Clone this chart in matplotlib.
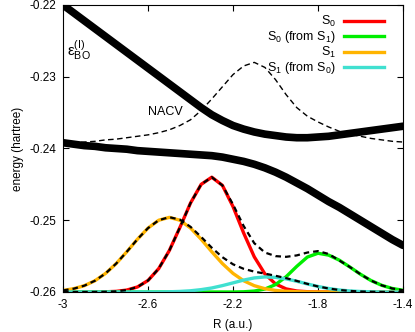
import numpy as np
import matplotlib
matplotlib.use("Agg")
from matplotlib import pyplot as plt

plt.rcParams['font.family'] = ['Liberation Sans', 'DejaVu Sans']
plt.rcParams['mathtext.fontset'] = 'custom'
plt.rcParams['mathtext.rm'] = 'Liberation Sans'
plt.rcParams['mathtext.it'] = 'Liberation Sans:italic'

# nuclear coordinate grid (a.u.)
R = [-3.00, -2.95, -2.90, -2.85, -2.80, -2.75, -2.70, -2.65, -2.60, -2.55, -2.50,
     -2.45, -2.40, -2.35, -2.30, -2.25, -2.20, -2.15, -2.10, -2.05, -2.00, -1.95,
     -1.90, -1.85, -1.80, -1.75, -1.70, -1.65, -1.60, -1.55, -1.50, -1.45, -1.40]

# BO surfaces (hartree)
bo_upper = [-0.2200, -0.2211, -0.2222, -0.2233, -0.2244, -0.2255, -0.2266, -0.2277,
            -0.2288, -0.2299, -0.2310, -0.2321, -0.2332, -0.2343, -0.2353, -0.2361,
            -0.2368, -0.2373, -0.2377, -0.2380, -0.2382, -0.2384, -0.2385, -0.2385,
            -0.2384, -0.2383, -0.2381, -0.2379, -0.2377, -0.2375, -0.2373, -0.2371, -0.2369]
bo_lower = [-0.2392, -0.2394, -0.2396, -0.2397, -0.2399, -0.2400, -0.2401, -0.2403,
            -0.2404, -0.2405, -0.2406, -0.2407, -0.2408, -0.2409, -0.2410, -0.2412,
            -0.2415, -0.2418, -0.2422, -0.2427, -0.2433, -0.2440, -0.2448, -0.2456,
            -0.2465, -0.2474, -0.2482, -0.2491, -0.2500, -0.2509, -0.2518, -0.2527, -0.2535]
nacv = [-0.2393, -0.2392, -0.2391, -0.2390, -0.2388, -0.2387, -0.2385, -0.2383,
        -0.2381, -0.2378, -0.2374, -0.2368, -0.2360, -0.2347, -0.2331, -0.2314,
        -0.2297, -0.2285, -0.2280, -0.2287, -0.2304, -0.2325, -0.2343, -0.2355,
        -0.2363, -0.2370, -0.2376, -0.2380, -0.2383, -0.2386, -0.2388, -0.2390, -0.2391]

# nuclear densities, heights above the baseline
baseline = -0.26
s0 = [0, 0, 0, 0.00001, 0.00003, 0.00009, 0.00027, 0.00070, 0.00161, 0.00325, 0.00577,
      0.00900, 0.01240, 0.01500, 0.01600, 0.01486, 0.01190, 0.00822, 0.00490, 0.00252,
      0.00112, 0.00043, 0.00014, 0.00004, 0.00001, 0, 0, 0, 0, 0, 0, 0, 0]
s0_from_s1 = [0, 0, 0, 0, 0, 0, 0, 0, 0, 0, 0, 0, 0, 0, 0, 0, 0,
              0.00003, 0.00013, 0.00041, 0.00103, 0.00213, 0.00357, 0.00487, 0.00540,
              0.00514, 0.00444, 0.00348, 0.00247, 0.00159, 0.00093, 0.00049, 0.00024]
s1 = [0.00022, 0.00046, 0.00088, 0.00157, 0.00259, 0.00396, 0.00561, 0.00735, 0.00891,
      0.01000, 0.01040, 0.01000, 0.00891, 0.00735, 0.00561, 0.00396, 0.00259, 0.00157,
      0.00088, 0.00046, 0.00022, 0.00010, 0.00004, 0.00001, 0, 0, 0, 0, 0, 0, 0, 0, 0]
s1_from_s0 = [0, 0, 0, 0, 0, 0, 0, 0, 0, 0, 0.00003, 0.00008, 0.00017, 0.00033, 0.00056,
              0.00089, 0.00127, 0.00166, 0.00196, 0.00210, 0.00204, 0.00183, 0.00150,
              0.00112, 0.00077, 0.00049, 0.00028, 0.00015, 0.00007, 0.00003, 0.00001, 0, 0]
s0_exact = [0, 0, 0, 0.00001, 0.00003, 0.00009, 0.00027, 0.00070, 0.00161, 0.00325, 0.00577,
            0.00900, 0.01240, 0.01500, 0.01600, 0.01486, 0.01220, 0.00920, 0.00680, 0.00550,
            0.00500, 0.00490, 0.00510, 0.00550, 0.00570, 0.00530, 0.00440, 0.00348, 0.00247,
            0.00159, 0.00093, 0.00049, 0.00024]
s1_exact = [0.00022, 0.00046, 0.00088, 0.00157, 0.00259, 0.00396, 0.00561, 0.00735, 0.00891,
            0.01000, 0.01043, 0.01008, 0.00908, 0.00768, 0.00617, 0.00485, 0.00386, 0.00323,
            0.00284, 0.00256, 0.00226, 0.00193, 0.00154, 0.00113, 0.00077, 0.00049, 0.00028,
            0.00015, 0.00007, 0.00003, 0.00001, 0, 0]

fig = plt.figure(figsize=(4.15, 3.32), dpi=100)
ax = fig.add_axes([0.152, 0.1205, 0.819, 0.8645])

ax.plot(R, bo_upper, color='black', lw=5.5, solid_capstyle='round', solid_joinstyle='round')
ax.plot(R, bo_lower, color='black', lw=5.5, solid_capstyle='round', solid_joinstyle='round')
ax.plot(R, nacv, color='black', lw=1.0, ls=(0, (4, 2.5)))

kw = dict(lw=2.4, solid_joinstyle='round')
l0, = ax.plot(R, baseline + np.array(s0), color='#ff0000', label='S$_0$', **kw)
l1, = ax.plot(R, baseline + np.array(s0_from_s1), color='#00ee00', label='S$_0$ (from S$_1$)', **kw)
l2, = ax.plot(R, baseline + np.array(s1), color='#ffb400', label='S$_1$', **kw)
l3, = ax.plot(R, baseline + np.array(s1_from_s0), color='#40e0d0', label='S$_1$ (from S$_0$)', **kw)
ax.plot(R, baseline + np.array(s0_exact), color='black', lw=1.6, ls=(0, (2.5, 1.8)))
ax.plot(R, baseline + np.array(s1_exact), color='black', lw=1.6, ls=(0, (2.5, 1.8)))

ax.text(-2.98, -0.2263, 'ε$_{\\mathrm{BO}}^{\\mathrm{(I)}}$', fontsize=11, va='center', ha='left')
ax.text(-2.52, -0.2349, 'NACV', fontsize=9, va='center', ha='center')

ax.set_xlim(-3, -1.4)
ax.set_ylim(-0.26, -0.22)
ax.set_xticks([-3, -2.6, -2.2, -1.8, -1.4])
ax.set_xticklabels(['-3', '-2.6', '-2.2', '-1.8', '-1.4'])
ax.set_yticks([-0.26, -0.25, -0.24, -0.23, -0.22])
ax.set_yticklabels(['-0.26', '-0.25', '-0.24', '-0.23', '-0.22'])
ax.tick_params(direction='in', top=True, right=True, length=4, width=0.8, labelsize=8.5, pad=5)
ax.set_xlabel('R (a.u.)', fontsize=8.5, labelpad=6)
ax.set_ylabel('energy (hartree)', fontsize=8.5, labelpad=4)

ax.legend(handles=[l0, l1, l2, l3], loc='upper right', bbox_to_anchor=(0.965, 0.995),
          frameon=False, markerfirst=False, fontsize=9, handlelength=3.2,
          handletextpad=0.6, labelspacing=0.0, borderaxespad=0.2)

fig.savefig('out.png', dpi=100)
